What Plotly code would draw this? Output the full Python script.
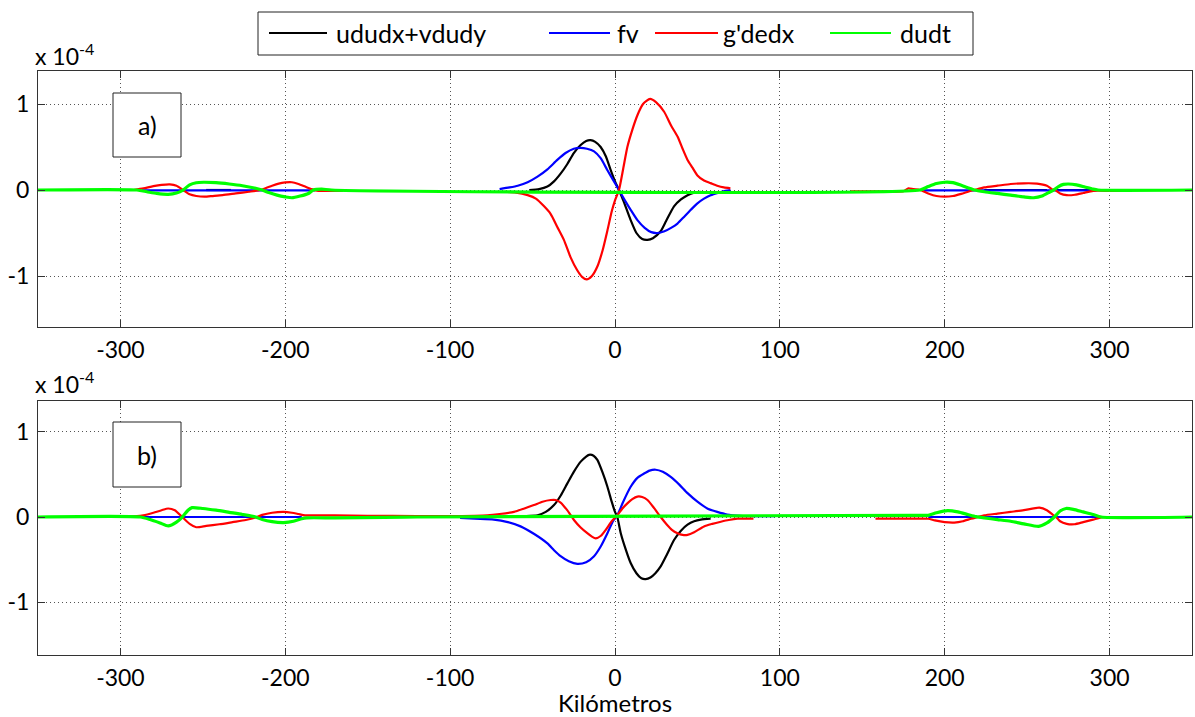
import plotly.graph_objects as go

W, H = 1195, 717
FONT = "Lato"

# ---------------- Data (values in units of 1e-4) ----------------
# Panel a) -- udu/dx + vdu/dy (black)
a_adv_x = [-248, -233, None,
           -52, -46, -41, -37, -33, -29, -25, -21, -17.5, -14.8, -12, -8.7, -5.5, -2.6, 0, 2.4, 5, 9.5,
           13, 16.5, 19.7, 23, 27.7, 31, 35.8, 40, 44, 48, 52, None,
           224, 262, None, 268, 288]
a_adv_y = [0, 0, None,
           0, 0.01, 0.04, 0.1, 0.19, 0.3, 0.43, 0.52, 0.57, 0.58, 0.56, 0.50, 0.39, 0.23, 0.1, 0, -0.12, -0.35,
           -0.5, -0.57, -0.58, -0.56, -0.48, -0.36, -0.19, -0.11, -0.06, -0.03, -0.02, None,
           0, 0, None, 0, 0]

# Panel a) -- fv (blue)
a_fv_x = [-287, -182, None,
          -70, -64, -59, -53, -47, -41, -35, -30, -25, -20.8, -17, -12.7, -8.7, -4.6, 0, 2.4, 6, 9.5, 13.6,
          18, 22, 25.7, 30, 34, 37.9, 42, 46, 50, 54, 58, 63, 67, 70, None,
          187, 292]
a_fv_y = [-0.005, -0.005, None,
          0.01, 0.03, 0.05, 0.09, 0.155, 0.24, 0.35, 0.43, 0.48, 0.49, 0.48, 0.45, 0.37, 0.23, 0.08, 0, -0.12,
          -0.23, -0.35, -0.44, -0.49, -0.50, -0.48, -0.44, -0.39, -0.31, -0.23, -0.155, -0.10, -0.06, -0.03,
          -0.01, 0, None,
          -0.005, -0.005]

# Panel a) -- g'de/dx (red)
a_gdx_x = [-292, -286, -280, -275, -270, -266, -262, -258, -254, -249, -244, -238, -230, -222, -215, -212,
           -208, -204, -200, -196, -192, -188, -184, -180, -172, -165, None,
           -67, -60, -53, -48, -43, -39, -35, -31, -27, -23, -20, -17.2, -14, -10.7, -7.5, -4.6, -2, 0, 2.4,
           5, 7.5, 10.5, 13.6, 17, 21.3, 25, 29.8, 34, 38, 41, 44, 47, 50, 54, 58, 62, 66, 70, None,
           143, 160, 175, 178, 181, 185, 190, 195, 200, 205, 210, 215, 218, 224, 232, 240, 248, 256, 262,
           265, 267, 270, 274, 279, 284, 290, 300, 308]
a_gdx_y = [0, 0.02, 0.045, 0.06, 0.066, 0.05, 0, -0.05, -0.07, -0.078, -0.07, -0.06, -0.04, -0.02, 0, 0.02,
           0.05, 0.075, 0.088, 0.09, 0.07, 0.04, 0.01, -0.01, -0.01, -0.01, None,
           -0.02, -0.03, -0.06, -0.1, -0.19, -0.28, -0.43, -0.58, -0.78, -0.93, -1.01, -1.04, -1.0, -0.89,
           -0.7, -0.47, -0.25, -0.12, 0, 0.25, 0.5, 0.7, 0.87, 1.0, 1.06, 1.02, 0.91, 0.75, 0.62, 0.48, 0.35,
           0.26, 0.17, 0.11, 0.08, 0.05, 0.03, 0.02, None,
           -0.015, -0.015, -0.015, 0.02, 0.01, 0, -0.04, -0.07, -0.078, -0.07, -0.045, -0.015, 0, 0.03, 0.05,
           0.07, 0.078, 0.075, 0.05, 0.01, 0, -0.04, -0.06, -0.055, -0.035, -0.01, -0.01, -0.01]

# Panel a) -- du/dt (green)
a_dt_x = [-350, -290, -284, -278, -271, -266, -262, -258, -254, -249.5, -242, -234, -226, -218, -214, -210,
          -205, -200, -196, -191, -186, -183, -178, -172, 185, 190, 195, 200, 205, 210, 215, 218, 224, 232,
          240, 248, 254, 259, 263, 266, 269, 272, 275, 280, 285, 290, 293, 350]
a_dt_y = [0, 0, -0.02, -0.04, -0.05, -0.035, 0, 0.06, 0.085, 0.09, 0.085, 0.07, 0.05, 0.02, 0, -0.03,
          -0.06, -0.08, -0.09, -0.07, -0.04, 0, 0.01, 0, 0, 0.04, 0.075, 0.09, 0.085, 0.055, 0.02, 0, -0.02,
          -0.04, -0.06, -0.08, -0.09, -0.07, -0.03, 0, 0.04, 0.065, 0.07, 0.06, 0.035, 0.01, 0, 0]

# Panel b) -- udu/dx + vdu/dy (black)
b_adv_x = [-65, -56, -47, -42, -37, -33, -28.9, -25, -20.8, -17.5, -15.8, -13, -10.7, -7.5, -4.6, -2, 0,
           1.4, 3.5, 6.5, 9.5, 13, 16, 18.6, 21.5, 24.5, 27.7, 31.5, 35.8, 40, 44, 48, 52, 58]
b_adv_y = [0, 0.01, 0.02, 0.06, 0.14, 0.25, 0.395, 0.53, 0.65, 0.71, 0.73, 0.72, 0.67, 0.52, 0.355, 0.18,
           0.06, 0, -0.19, -0.38, -0.54, -0.66, -0.72, -0.73, -0.71, -0.66, -0.58, -0.44, -0.27, -0.16,
           -0.09, -0.05, -0.03, -0.02]

# Panel b) -- fv (blue)
b_fv_x = [-287, -190, None,
          -94, -85, -73.5, -65, -57.3, -49, -41, -37, -33, -28, -22.8, -17.5, -12.7, -8.5, -4.6, -1, 1.4, 5,
          9.5, 13.6, 17.6, 21, 24.7, 29, 33.8, 39, 44, 50, 56, 62, 68, 76, 84, 90, 97, None,
          190, 295]
b_fv_y = [0, 0, None,
          -0.01, -0.02, -0.03, -0.06, -0.11, -0.2, -0.31, -0.39, -0.46, -0.52, -0.55, -0.53, -0.46, -0.34,
          -0.19, -0.04, 0.02, 0.18, 0.355, 0.46, 0.51, 0.545, 0.555, 0.53, 0.47, 0.38, 0.28, 0.18, 0.1, 0.06,
          0.03, 0.015, 0.01, 0.01, 0.01, None,
          0, 0]

# Panel b) -- g'de/dx (red)
b_gdx_x = [-300, -290, -286, -280, -275, -271, -267, -262.5, -258, -254, -248, -240, -232, -224, -218, -214,
           -208, -201, -196, -192, -188, -170, -150, -120, -100, -85, -77.5, -70, -61.3, -55, -49.2, -44,
           -39, -36, -33, -29, -24.9, -21, -16.8, -14, -11.7, -8.5, -5.6, -2, 1.4, 4.5, 7.5, 10.5, 13.6,
           16.5, 19.7, 23.5, 27.7, 31.5, 34.5, 37.9, 41, 44, 48, 54, 59, 64.2, 69, 74.3, 84, None,
           158, 180, 190, 194, 200, 205.8, 211, 216, 220, 224, 232, 240, 248, 257.4, 262, 266, 267.5, 270,
           274, 278.7, 284, 290, 295, 298]
b_gdx_y = [0.01, 0.01, 0.02, 0.05, 0.08, 0.10, 0.08, 0, -0.08, -0.12, -0.105, -0.085, -0.06, -0.035, -0.005,
           0.025, 0.05, 0.06, 0.05, 0.035, 0.02, 0.02, 0.015, 0.01, 0.01, 0.015, 0.02, 0.035, 0.06, 0.1, 0.14,
           0.18, 0.20, 0.2, 0.17, 0.08, -0.035, -0.12, -0.19, -0.23, -0.25, -0.22, -0.15, -0.05, 0.02, 0.1,
           0.16, 0.21, 0.24, 0.235, 0.2, 0.11, 0.0, -0.09, -0.15, -0.19, -0.21, -0.21, -0.18, -0.11, -0.08,
           -0.055, -0.035, -0.02, -0.02, None,
           -0.02, -0.02, -0.02, -0.04, -0.06, -0.065, -0.05, -0.02, 0, 0.02, 0.04, 0.06, 0.08, 0.11, 0.08,
           0.02, 0, -0.05, -0.08, -0.085, -0.06, -0.03, -0.005, 0]

# Panel b) -- du/dt (green)
b_dt_x = [-350, -288, -282, -276, -271, -266, -262.5, -259, -256.6, -250, -242, -234, -226, -218, -214,
          -208, -201, -195, -190, -187, -170, -140, -120, 180, 190, 195, 201.8, 208, 214, 219, 224, 232, 240,
          248, 257, 262, 266.5, 270, 273.6, 278, 284, 290, 295, 350]
b_dt_y = [0, 0, -0.03, -0.07, -0.105, -0.06, 0, 0.08, 0.11, 0.10, 0.08, 0.055, 0.03, 0, -0.03, -0.055,
          -0.065, -0.05, -0.02, -0.01, -0.01, -0.005, 0, 0.02, 0.02, 0.05, 0.075, 0.06, 0.03, 0.005, -0.01,
          -0.03, -0.05, -0.08, -0.11, -0.07, 0, 0.07, 0.10, 0.09, 0.06, 0.03, 0, 0]

x_ticks = [-300, -200, -100, 0, 100, 200, 300]
x_tick_text = ["-300", "-200", "-100", "0", "100", "200", "300"]
y_ticks = [-1, 0, 1]
y_tick_text = ["-1", "0", "1"]
series_names = ["ududx+vdudy", "fv", "g'dedx", "dudt"]
series_colors = ["#000000", "#0000ff", "#ff0000", "#00ff00"]
x_title = "Kilómetros"
panel_labels = ["a)", "b)"]
scale_label = "x 10<sup>-4</sup>"

# ---------------- Figure ----------------
fig = go.Figure()
panels = [
    ("x", "y", [(a_adv_x, a_adv_y), (a_fv_x, a_fv_y), (a_gdx_x, a_gdx_y), (a_dt_x, a_dt_y)]),
    ("x2", "y2", [(b_adv_x, b_adv_y), (b_fv_x, b_fv_y), (b_gdx_x, b_gdx_y), (b_dt_x, b_dt_y)]),
]
for xa, ya, series in panels:
    for i, (xs, ys) in enumerate(series):
        fig.add_trace(go.Scatter(
            x=xs, y=ys, mode="lines", name=series_names[i],
            line=dict(color=series_colors[i], width=3.2 if i == 3 else 2.2, shape="spline", smoothing=0.6),
            xaxis=xa, yaxis=ya, showlegend=False, connectgaps=False, hoverinfo="skip"))


def px_x(p):
    return p / W


def px_y(p):
    return 1 - p / H


axis_common = dict(
    showline=True, linecolor="#333333", linewidth=1, mirror="allticks",
    ticks="inside", ticklen=7, tickcolor="#333333",
    showgrid=True, gridcolor="#555555", griddash="1px,3px", gridwidth=1,
    zeroline=False, tickfont=dict(family=FONT, size=23, color="#000000"),
)
xdom = [px_x(38), px_x(1192)]
fig.update_layout(
    xaxis=dict(domain=xdom, range=[-350, 350], tickvals=x_ticks, ticktext=x_tick_text, anchor="y",
               ticklabelstandoff=2, **axis_common),
    yaxis=dict(domain=[px_y(327), px_y(71)], range=[-1.593, 1.384], tickvals=y_ticks, ticktext=y_tick_text,
               anchor="x", ticklabelstandoff=3, **axis_common),
    xaxis2=dict(domain=xdom, range=[-350, 350], tickvals=x_ticks, ticktext=x_tick_text, anchor="y2",
                ticklabelstandoff=2,
                title=dict(text=x_title, font=dict(family=FONT, size=24, color="#000000"), standoff=2),
                **axis_common),
    yaxis2=dict(domain=[px_y(655), px_y(401)], range=[-1.62, 1.362], tickvals=y_ticks, ticktext=y_tick_text,
                anchor="x2", ticklabelstandoff=3, **axis_common),
)

# Legend: framed box with line samples and labels
shapes = [dict(type="rect", xref="paper", yref="paper", x0=px_x(258), x1=px_x(973), y0=px_y(55),
               y1=px_y(12), line=dict(color="#222222", width=1), fillcolor="white", layer="below")]
annotations = []
leg_line = [(269, 327), (549, 610), (655, 718), (830, 891)]
leg_text_x = [336, 617, 723, 900]
leg_y = 33
for name, color, (l0, l1), tx in zip(series_names, series_colors, leg_line, leg_text_x):
    shapes.append(dict(type="line", xref="paper", yref="paper", x0=px_x(l0), x1=px_x(l1),
                       y0=px_y(leg_y), y1=px_y(leg_y), line=dict(color=color, width=2.2)))
    annotations.append(dict(text=name, xref="paper", yref="paper", x=px_x(tx - 2), y=px_y(leg_y),
                            xanchor="left", yanchor="middle", showarrow=False,
                            font=dict(family=FONT, size=25, color="#000000")))

for lab, (top, bot), sy in zip(panel_labels, [(93, 157), (422, 487)], [72, 400]):
    shapes.append(dict(type="rect", xref="paper", yref="paper", x0=px_x(113), x1=px_x(181),
                       y0=px_y(bot), y1=px_y(top), line=dict(color="#222222", width=1),
                       fillcolor="white", layer="above"))
    annotations.append(dict(text=lab, xref="paper", yref="paper", x=px_x(147), y=px_y((top + bot) / 2),
                            xanchor="center", yanchor="middle", showarrow=False,
                            font=dict(family=FONT, size=25, color="#000000")))
    annotations.append(dict(text=scale_label, xref="paper", yref="paper", x=px_x(33), y=px_y(sy),
                            xanchor="left", yanchor="bottom", showarrow=False,
                            font=dict(family=FONT, size=23, color="#000000")))

fig.update_layout(
    width=W, height=H, margin=dict(l=0, r=0, t=0, b=0),
    paper_bgcolor="white", plot_bgcolor="white",
    shapes=shapes, annotations=annotations,
    font=dict(family=FONT, size=23, color="#000000"),
)

fig.write_html("out.html")
